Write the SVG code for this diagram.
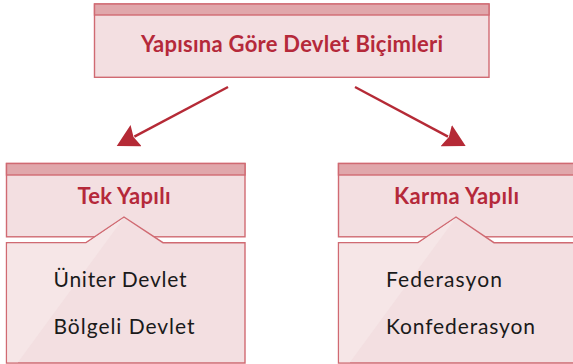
<svg xmlns="http://www.w3.org/2000/svg" width="573" height="364" viewBox="0 0 573 364">
<style>
.box{fill:#f3dfe1;stroke:#d06a72;stroke-width:1.4}
.band{fill:#e0a7ab;stroke:#d06a72;stroke-width:1.4}
.light{fill:#f6e6e7}
.title{font-family:Lato,"Liberation Sans",sans-serif;font-weight:bold;font-size:22px;fill:#b5293a;text-anchor:middle}
.item{font-family:Lato,"Liberation Sans",sans-serif;font-size:21px;fill:#1a1a1a}
.conn{stroke:#b52a36;stroke-width:2.4;fill:none}
</style>
<defs>
<marker id="ah" markerUnits="userSpaceOnUse" markerWidth="22" markerHeight="24" viewBox="0 0 22 24" refX="2" refY="12" orient="auto">
<path d="M0,0 L22,12 L0,24 L3,12 Z" fill="#b52a36"/>
</marker>
</defs>
<g id="root">
<rect class="box" x="94.5" y="4" width="394.5" height="73.3"/>
<rect class="band" x="94.5" y="4" width="394.5" height="11"/>
<text class="title" x="292" y="52.3" textLength="302" lengthAdjust="spacing">Yapısına Göre Devlet Biçimleri</text>
</g>
<g id="connectors">
<line class="conn" x1="228" y1="87" x2="134.4" y2="136.6" marker-end="url(#ah)"/>
<line class="conn" x1="355" y1="87" x2="448" y2="136.6" marker-end="url(#ah)"/>
</g>
<g id="tek">
<rect class="box" x="6.5" y="163.5" width="238.5" height="73.3"/>
<rect class="band" x="6.5" y="163.5" width="238.5" height="11.5"/>
<text class="title" x="124" y="204" textLength="93" lengthAdjust="spacing">Tek Yapılı</text>
<path class="box" d="M6.5,242.7 H86 L124,217 L163,242.7 H245 V363 H6.5 Z"/>
<path class="light" d="M7.2,243.4 H86 L123.5,218.2 L18,362.3 H7.2 Z"/>
<text class="item" x="53.5" y="286.5" textLength="133" lengthAdjust="spacing">Üniter Devlet</text>
<text class="item" x="53.5" y="334" textLength="141" lengthAdjust="spacing">Bölgeli Devlet</text>
</g>
<g id="karma">
<rect class="box" x="338.5" y="163.5" width="240" height="73.3"/>
<rect class="band" x="338.5" y="163.5" width="240" height="11.5"/>
<text class="title" x="456.5" y="204" textLength="125" lengthAdjust="spacing">Karma Yapılı</text>
<path class="box" d="M338.5,242.7 H418 L456,217 L494,242.7 H578.5 V363 H338.5 Z"/>
<path class="light" d="M339.2,243.4 H418 L455.5,218.2 L350,362.3 H339.2 Z"/>
<text class="item" x="386" y="286.5" textLength="116" lengthAdjust="spacing">Federasyon</text>
<text class="item" x="386" y="334" textLength="149" lengthAdjust="spacing">Konfederasyon</text>
</g>
</svg>
